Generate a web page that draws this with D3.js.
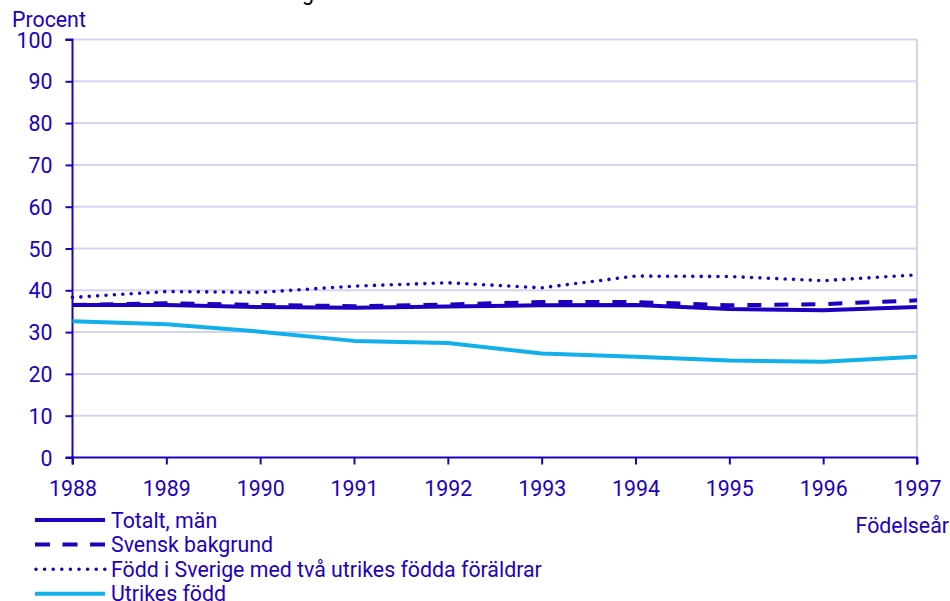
<!DOCTYPE html>
<html lang="sv">
<head>
    <meta charset="UTF-8">
    <title>Födelseår</title>
    <script src="https://d3js.org/d3.v7.min.js"></script>
    <style>
        body{ margin:0; background:#fff; }
        svg text{ font-family: Roboto, "Noto Sans", sans-serif; }
    </style>
</head>
<body>
<div id="fig"></div>
<script>
    let years = [1988, 1989, 1990, 1991, 1992, 1993, 1994, 1995, 1996, 1997]
    let totalt = [36.5, 36.5, 36.0, 35.8, 36.1, 36.4, 36.5, 35.5, 35.2, 36.0]
    let svensk = [36.5, 36.9, 36.5, 36.2, 36.6, 37.2, 37.2, 36.4, 36.7, 37.6]
    let fodd_sverige = [38.3, 39.7, 39.5, 41.0, 41.8, 40.6, 43.4, 43.3, 42.3, 43.7]
    let utrikes = [32.6, 31.9, 30.1, 27.9, 27.4, 24.9, 24.1, 23.2, 22.9, 24.1]
    let y_ticks = [0, 10, 20, 30, 40, 50, 60, 70, 80, 90, 100]
    let names = ["Totalt, män", "Svensk bakgrund", "Född i Sverige med två utrikes födda föräldrar", "Utrikes född"]
    let title_text = "g"

    let dark = "#1e00be", light = "#12b0ea", grid = "#d4d4f2"
    let fs = 21.33
    let w = 950, h = 601
    let m_left = 72.5, m_right = 917, m_top = 39.5, m_bottom = 457.5

    let svg = d3.select("#fig").append("svg")
        .attr("width", w).attr("height", h)

    let x = d3.scaleLinear().domain([1988, 1997]).range([m_left, m_right])
    let y = d3.scaleLinear().domain([0, 100]).range([m_bottom, m_top])

    // clipped title at the very top
    svg.append("text").attr("x", 302).attr("y", 0)
        .attr("font-size", fs).attr("fill", "#000").text(title_text)

    // gridlines
    svg.append("g").selectAll("line").data(y_ticks.slice(1)).join("line")
        .attr("x1", m_left).attr("x2", m_right)
        .attr("y1", d => y(d)).attr("y2", d => y(d))
        .attr("stroke", grid).attr("stroke-width", 2)
    svg.append("line").attr("x1", m_right).attr("x2", m_right)
        .attr("y1", m_top).attr("y2", m_bottom)
        .attr("stroke", grid).attr("stroke-width", 2)

    // axes
    let yAxis = svg.append("g").attr("transform", `translate(${m_left},0)`)
        .call(d3.axisLeft(y).tickValues(y_ticks).tickSize(7).tickPadding(13))
    let xAxis = svg.append("g").attr("transform", `translate(0,${m_bottom})`)
        .call(d3.axisBottom(x).tickValues(years).tickFormat(d3.format("d")).tickSize(7).tickPadding(13))
    for (let a of [yAxis, xAxis]) {
        a.select(".domain").attr("stroke", dark).attr("stroke-width", 2)
        a.selectAll(".tick line").attr("stroke", dark).attr("stroke-width", 2)
        a.selectAll(".tick text").attr("fill", dark).attr("font-size", fs)
            .attr("font-family", "Roboto")
    }
    yAxis.selectAll(".tick text").attr("dy", "0.36em")
    xAxis.selectAll(".tick text").attr("dy", "0.85em")
    xAxis.select(".domain").attr("d", `M${m_left},7V0H${m_right}V7`)
    yAxis.select(".domain").attr("d", `M-7,${m_top}H0V${m_bottom}H-7`)

    svg.append("text").attr("x", 12).attr("y", 27)
        .attr("font-size", fs).attr("fill", dark).text("Procent")
    svg.append("text").attr("x", 949).attr("y", 533).attr("text-anchor", "end")
        .attr("font-size", fs).attr("fill", dark).text("Födelseår")

    let series = [
        {name: names[0], values: totalt, color: dark, dash: null, width: 4, cap: "butt"},
        {name: names[1], values: svensk, color: dark, dash: "14,13", width: 4, cap: "butt"},
        {name: names[2], values: fodd_sverige, color: dark, dash: "0,8.4", width: 3.6, cap: "round"},
        {name: names[3], values: utrikes, color: light, dash: null, width: 4, cap: "butt"}
    ]

    let line = d3.line().x((d, i) => x(years[i])).y(d => y(d))

    svg.append("g").selectAll("path").data([series[3], series[2], series[1], series[0]]).join("path")
        .attr("d", d => line(d.values))
        .attr("fill", "none")
        .attr("stroke", d => d.color)
        .attr("stroke-width", d => d.width)
        .attr("stroke-dasharray", d => d.dash)
        .attr("stroke-linecap", d => d.cap)
        .attr("stroke-linejoin", "round")

    // legend
    let legend = svg.append("g").selectAll("g").data(series).join("g")
        .attr("transform", (d, i) => `translate(0,${520 + i * 24.6})`)
    legend.append("line")
        .attr("x1", d => d.cap === "round" ? 36 : 35).attr("x2", 105)
        .attr("stroke", d => d.color)
        .attr("stroke-width", d => d.width)
        .attr("stroke-dasharray", d => d.dash === "14,13" ? "15,12.5" : d.dash === null ? null : "0,8.6")
        .attr("stroke-linecap", d => d.cap)
    legend.append("text").attr("x", 111).attr("y", 7.5)
        .attr("font-size", fs).attr("fill", dark).text(d => d.name)
</script>
</body>
</html>
